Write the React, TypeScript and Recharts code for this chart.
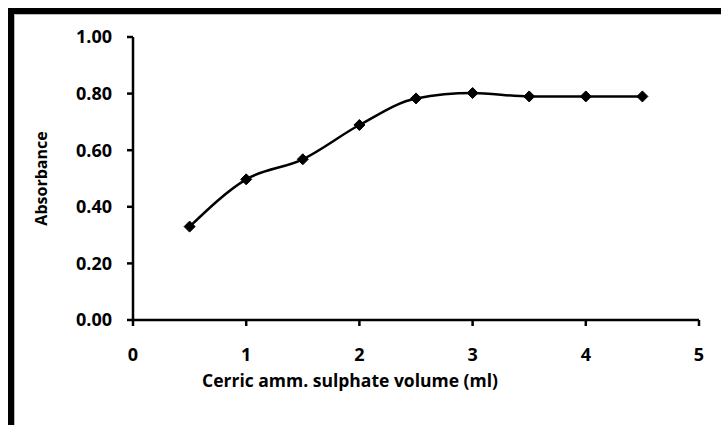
import React from 'react'
import { LineChart, Line, XAxis, YAxis, Label } from 'recharts'

const volumes = [0.5, 1, 1.5, 2, 2.5, 3, 3.5, 4, 4.5]
const absorbance = [0.33, 0.497, 0.568, 0.689, 0.783, 0.802, 0.79, 0.79, 0.79]
const xTicks = [0, 1, 2, 3, 4, 5]
const yTicks = [0, 0.2, 0.4, 0.6, 0.8, 1.0]

const chartData = volumes.map((v, i) => ({ volume: v, absorbance: absorbance[i] }))

const font = '"Open Sans", "Liberation Sans", sans-serif'
const tickStyle = { fill: '#000', fontSize: 18, fontWeight: 700, fontFamily: font }

function Diamond(props: any) {
  const { cx, cy, index } = props
  if (cx == null || cy == null) return null
  const r = 5.5
  return (
    <path
      key={`d-${index}`}
      d={`M${cx},${cy - r} L${cx + r},${cy} L${cx},${cy + r} L${cx - r},${cy} Z`}
      fill="#000"
      stroke="#000"
    />
  )
}

export default function App() {
  return (
    <div style={{ position: 'absolute', left: 0, top: 0, width: 721, height: 425, background: '#fff', overflow: 'hidden' }}>
      {/* thick frame on top and left, like the cropped source image */}
      <div
        style={{
          position: 'absolute',
          left: 8,
          top: 8,
          width: 721,
          height: 425,
          borderTop: '6px solid #000',
          borderLeft: '6px solid #000',
          boxShadow: 'inset 1px 1px 0 #bbb',
        }}
      />
      <LineChart
        width={721}
        height={425}
        data={chartData}
        margin={{ top: 37, right: 22, left: 0, bottom: 0 }}
        style={{ position: 'absolute', left: 0, top: 0 }}
      >
        <XAxis
          dataKey="volume"
          type="number"
          domain={[0, 5]}
          ticks={xTicks}
          height={105}
          stroke="#000"
          strokeWidth={2.5}
          tickSize={6}
          tickMargin={22}
          tick={tickStyle}
          tickLine={{ stroke: '#000', strokeWidth: 2.5 }}
        >
          <Label
            value="Cerric amm. sulphate volume (ml)"
            position="center"
            dx={-66}
            dy={8}
            style={{ fill: '#000', fontSize: 17.5, fontWeight: 700, fontFamily: font }}
          />
        </XAxis>
        <YAxis
          type="number"
          domain={[0, 1]}
          ticks={yTicks}
          width={133}
          stroke="#000"
          strokeWidth={2.5}
          tickSize={6}
          tickMargin={15}
          tick={tickStyle}
          tickLine={{ stroke: '#000', strokeWidth: 2.5 }}
          tickFormatter={(v: number) => v.toFixed(2)}
        >
          <Label
            value="Absorbance"
            angle={-90}
            position="center"
            dx={-25}
            style={{ fill: '#000', fontSize: 16, fontWeight: 700, fontFamily: font, textAnchor: 'middle' }}
          />
        </YAxis>
        <Line
          type="monotone"
          dataKey="absorbance"
          stroke="#000"
          strokeWidth={2.5}
          dot={<Diamond />}
          activeDot={false}
          isAnimationActive={false}
        />
      </LineChart>
    </div>
  )
}
